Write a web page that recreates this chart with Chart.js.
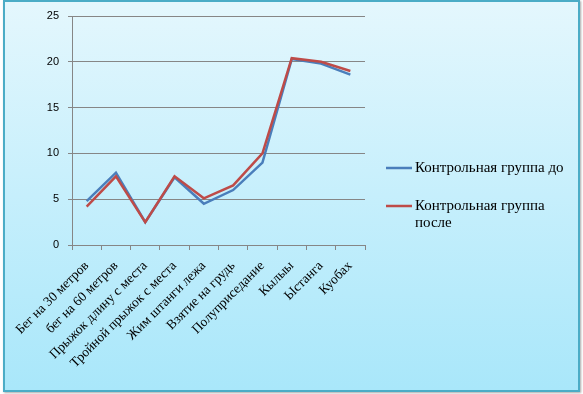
<!doctype html>
<html>
<head>
<meta charset="utf-8">
<title>Контрольная группа</title>
<script src="https://cdn.jsdelivr.net/npm/chart.js@4.4.1/dist/chart.umd.min.js"></script>
<style>
    html, body { margin: 0; padding: 0; background: #fff; }
    .frame {
        position: absolute; left: 3px; top: 0px; width: 573px; height: 388px;
        border: 2px solid #4bacc6;
        background: linear-gradient(to bottom, #e4f7fd 0%, #c6effc 50%, #a9e7fa 100%);
        box-shadow: 1px 1px 2px rgba(0,0,0,0.35);
    }
    .chart-holder { position: absolute; left: 0; top: 0; width: 583px; height: 394px; }
</style>
</head>
<body>
<div class="frame"></div>
<div class="chart-holder">
    <canvas id="myChart" width="583" height="394"></canvas>
</div>

<script>
    // категории (упражнения)
    var categories = [
        'Бег на 30 метров',
        'бег на 60 метров',
        'Прыжок длину с места',
        'Тройной прыжок с места',
        'Жим штанги лежа',
        'Взятие на грудь',
        'Полуприседание',
        'Кылыы',
        'Ыстанга',
        'Куобах'
    ];
    var seriesLabels = ['Контрольная группа до', 'Контрольная группа после'];
    var before = [4.8, 7.9, 2.5, 7.4, 4.5, 6.0, 9.0, 20.3, 19.8, 18.6];
    var after = [4.2, 7.5, 2.5, 7.5, 5.1, 6.5, 10.0, 20.4, 20.0, 19.0];
    var yTicks = [0, 5, 10, 15, 20, 25];

    var colors = ['#4a7ebb', '#be4b48'];
    var serif = 'Liberation Serif, DejaVu Serif, serif';

    // легенда справа, с переносом строк как в Excel
    var sideLegend = {
        id: 'sideLegend',
        afterDraw: function (chart) {
            var ctx = chart.ctx;
            var x = 386, y = 168, gap = 38, lineLen = 26, maxW = 152, lh = 17;
            ctx.save();
            ctx.font = '15px ' + serif;
            ctx.textBaseline = 'middle';
            ctx.fillStyle = '#000';
            chart.data.datasets.forEach(function (ds, i) {
                var yy = y + i * gap;
                ctx.strokeStyle = ds.borderColor;
                ctx.lineWidth = 2.5;
                ctx.beginPath();
                ctx.moveTo(x, yy);
                ctx.lineTo(x + lineLen, yy);
                ctx.stroke();
                var words = ds.label.split(' ');
                var line = '';
                var row = 0;
                words.forEach(function (w) {
                    var test = line ? line + ' ' + w : w;
                    if (ctx.measureText(test).width > maxW && line) {
                        ctx.fillText(line, x + lineLen + 3, yy + row * lh);
                        line = w;
                        row++;
                    } else {
                        line = test;
                    }
                });
                ctx.fillText(line, x + lineLen + 3, yy + row * lh);
            });
            ctx.restore();
        }
    };

    var ctx = document.getElementById('myChart').getContext('2d');
    var myChart = new Chart(ctx, {
        type: 'line',
        data: {
            labels: categories,
            datasets: [{
                label: seriesLabels[0],
                data: before,
                borderColor: colors[0],
                backgroundColor: colors[0],
                borderWidth: 2.5,
                pointRadius: 0,
                tension: 0,
                order: 1
            }, {
                label: seriesLabels[1],
                data: after,
                borderColor: colors[1],
                backgroundColor: colors[1],
                borderWidth: 2.5,
                pointRadius: 0,
                tension: 0,
                order: 0
            }]
        },
        options: {
            responsive: false,
            animation: false,
            layout: { padding: { left: 0, top: 16, right: 218, bottom: 0 } },
            plugins: {
                legend: { display: false },
                tooltip: { enabled: false },
                title: { display: false }
            },
            scales: {
                x: {
                    offset: true,
                    grid: {
                        offset: true,
                        drawOnChartArea: false,
                        tickLength: 5,
                        color: '#868686'
                    },
                    border: { color: '#868686' },
                    ticks: {
                        autoSkip: false,
                        minRotation: 45,
                        maxRotation: 45,
                        padding: 8,
                        color: '#000',
                        font: { family: serif, size: 13.5 }
                    },
                    afterFit: function (scale) { scale.height = 149; }
                },
                y: {
                    min: 0,
                    max: 25,
                    afterBuildTicks: function (scale) {
                        scale.ticks = yTicks.map(function (v) { return { value: v }; });
                    },
                    grid: { color: '#868686', tickLength: 4 },
                    border: { color: '#868686' },
                    ticks: {
                        padding: 9,
                        color: '#000',
                        font: { family: 'Liberation Sans, Arial, sans-serif', size: 11 }
                    },
                    afterFit: function (scale) { scale.width = 72; }
                }
            }
        },
        plugins: [sideLegend]
    });
</script>
</body>
</html>
